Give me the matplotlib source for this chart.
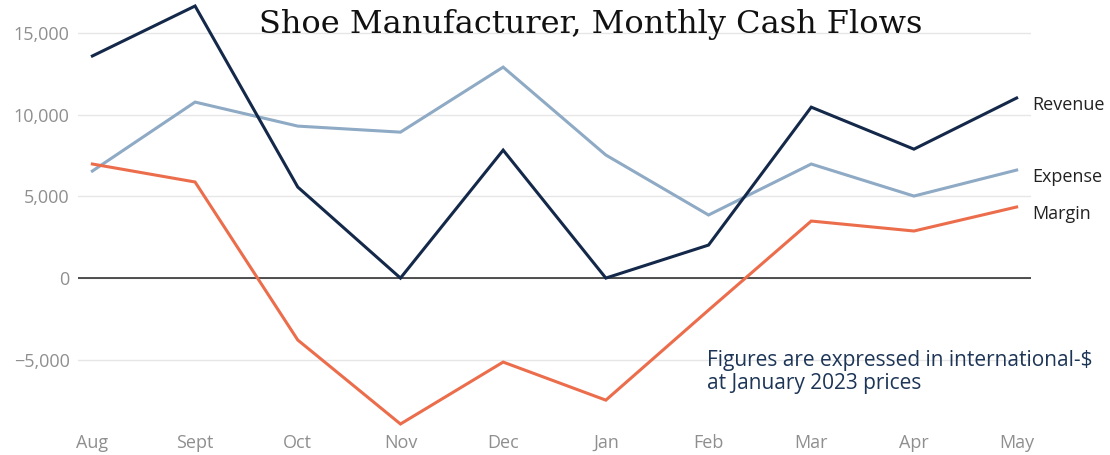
import matplotlib
matplotlib.use("Agg")
import matplotlib.pyplot as plt
from matplotlib.ticker import FuncFormatter

months = ["Aug", "Sept", "Oct", "Nov", "Dec", "Jan", "Feb", "Mar", "Apr", "May"]
revenue = [13590, 16650, 5570, 0, 7830, 0, 2020, 10460, 7890, 11020]
expense = [6550, 10770, 9300, 8930, 12910, 7530, 3860, 6980, 5020, 6610]
margin = [6980, 5880, -3790, -8930, -5140, -7470, -1960, 3490, 2880, 4350]
yticks = [-5000, 0, 5000, 10000, 15000]

c_rev = "#14284a"
c_exp = "#8eaac5"
c_mar = "#ec6d4b"
c_tick = "#8f8f8f"
sans = "Open Sans"

fig = plt.figure(figsize=(11.1, 4.55), dpi=100)
ax = fig.add_axes([78/1110, (455-424)/455, (1031-78)/1110, (424-6)/455])

x = list(range(len(months)))
for vals, col in [(expense, c_exp), (margin, c_mar), (revenue, c_rev)]:
    ax.plot(x, vals, color=col, lw=2.2, clip_on=False, zorder=3, solid_joinstyle="miter")

ax.set_xlim(-0.14, len(months) - 1 + 0.14)
ax.set_ylim(min(margin), max(revenue))
ax.set_yticks(yticks)
ax.yaxis.set_major_formatter(FuncFormatter(lambda v, p: f"{int(v):,}".replace("-", "\u2212")))
ax.set_xticks(x)
ax.set_xticklabels(months)
ax.grid(axis="y", color="#e6e6e6", lw=1)
ax.axhline(0, color="#222222", lw=1.1, zorder=2)
for s in ax.spines.values():
    s.set_visible(False)
ax.tick_params(length=0, labelsize=13, labelcolor=c_tick, pad=7)
for lab in ax.get_xticklabels() + ax.get_yticklabels():
    lab.set_family(sans)
ax.tick_params(axis="y", pad=6)

for vals, name in [(revenue, "Revenue"), (expense, "Expense"), (margin, "Margin")]:
    ax.annotate(name, xy=(len(months) - 1, vals[-1]), xytext=(11, -5), textcoords="offset points",
                ha="left", va="center", fontsize=13, color="#222222", family=sans, annotation_clip=False)

fig.text(591/1110, 1 - 25/455, "Shoe Manufacturer, Monthly Cash Flows", ha="center", va="center",
         fontsize=23, family="DejaVu Serif", color="#111111")

fig.text(707/1110, 1 - 372/455, "Figures are expressed in international-$\nat January 2023 prices",
         ha="left", va="center", fontsize=15, family=sans, color="#1d3557", linespacing=1.15)

fig.savefig("out.png", dpi=100)
